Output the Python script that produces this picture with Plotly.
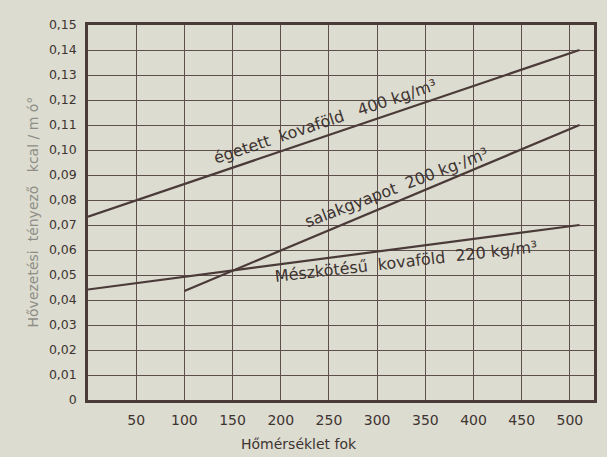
import plotly.graph_objects as go

# Data
temp_egetett = [0, 510]
val_egetett = [0.0733, 0.140]
temp_salak = [100, 510]
val_salak = [0.0436, 0.110]
temp_mesz = [0, 510]
val_mesz = [0.0442, 0.070]

x_ticks = [50, 100, 150, 200, 250, 300, 350, 400, 450, 500]
y_ticks = [0, 0.01, 0.02, 0.03, 0.04, 0.05, 0.06, 0.07, 0.08, 0.09, 0.10,
           0.11, 0.12, 0.13, 0.14, 0.15]
y_labels = ["0", "0,01", "0,02", "0,03", "0,04", "0,05", "0,06", "0,07", "0,08",
            "0,09", "0,10", "0,11", "0,12", "0,13", "0,14", "0,15"]

label_egetett = "égetett  kovaföld   400 kg/m³"
label_salak = "salakgyapot  200 kg·/m³"
label_mesz = "Mészkötésű  kovaföld  220 kg/m³"

ink = "#4a3a38"
paper = "#dcdcd0"
font_family = "DejaVu Sans, sans-serif"

fig = go.Figure()
for xs, ys in [(temp_egetett, val_egetett), (temp_salak, val_salak), (temp_mesz, val_mesz)]:
    fig.add_trace(go.Scatter(x=xs, y=ys, mode="lines",
                             line=dict(color=ink, width=2.2), showlegend=False,
                             hoverinfo="skip"))

fig.update_layout(
    width=607, height=457,
    margin=dict(l=88, r=10, t=25, b=57),
    paper_bgcolor=paper, plot_bgcolor=paper,
    font=dict(family=font_family, color="#3e3432", size=13),
    xaxis=dict(range=[0, 525], tickvals=x_ticks, ticktext=[str(v) for v in x_ticks],
               showgrid=True, gridcolor="#5e4e4c", gridwidth=1,
               showline=True, linecolor=ink, linewidth=2.5, mirror=True,
               zeroline=False, ticks="", ticklabelstandoff=5,
               tickfont=dict(size=14)),
    yaxis=dict(range=[0, 0.15], tickvals=y_ticks, ticktext=y_labels,
               showgrid=True, gridcolor="#5e4e4c", gridwidth=1,
               showline=True, linecolor=ink, linewidth=2.5, mirror=True,
               zeroline=False, ticks="", ticklabelstandoff=6,
               tickfont=dict(size=12.5)),
    annotations=[
        dict(x=246, y=0.1115, xref="x", yref="y", text=label_egetett, showarrow=False,
             textangle=-18.5, font=dict(size=16, color="#3e3432")),
        dict(x=320, y=0.0850, xref="x", yref="y", text=label_salak, showarrow=False,
             textangle=-21, font=dict(size=16, color="#3e3432")),
        dict(x=330, y=0.0555, xref="x", yref="y", text=label_mesz, showarrow=False,
             textangle=-6.5, font=dict(size=16, color="#3e3432")),
        dict(x=219, y=0, xref="x", yref="paper", yanchor="middle", yshift=-44,
             text="Hőmérséklet fok", showarrow=False,
             font=dict(size=14, color="#3e3432")),
        dict(x=0, y=0.5, xref="paper", yref="paper", xshift=-66,
             text="Hővezetési  tényező   kcal / m ó°", textangle=-90, showarrow=False,
             font=dict(size=14, color="#8e8e86")),
    ],
)

fig.write_html("out.html", config={"displayModeBar": False},
               post_script="document.body.style.margin='0px';")
